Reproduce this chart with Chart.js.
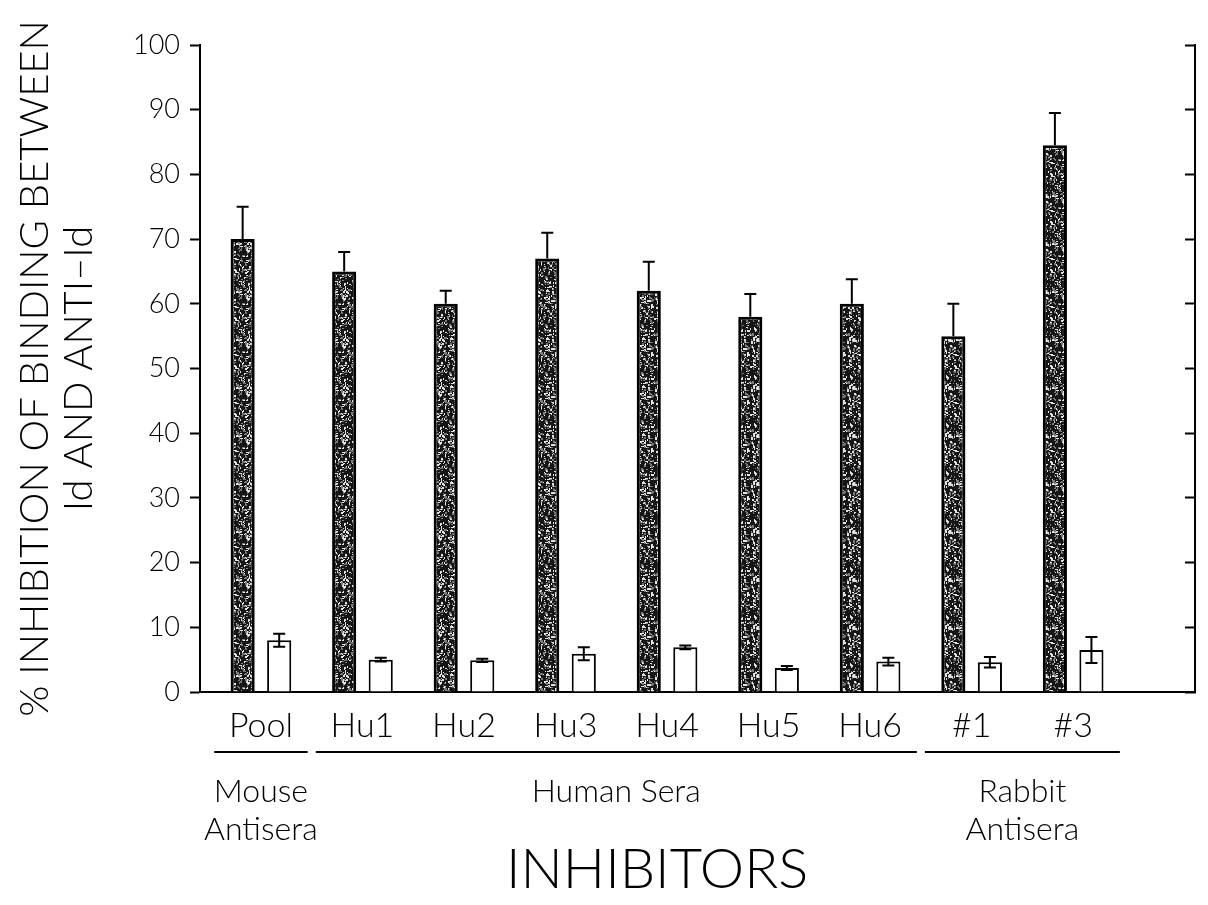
<!DOCTYPE html>
<html>
<head>
<meta charset="utf-8">
<script src="https://cdn.jsdelivr.net/npm/chart.js@4.4.1/dist/chart.umd.min.js"></script>
<style>
  body { margin: 0; background: #fff; }
  #wrap { width: 1208px; height: 905px; }
</style>
</head>
<body>
<div id="wrap"><canvas id="barChart"></canvas></div>
<script>
// values
const categories = ['Pool', 'Hu1', 'Hu2', 'Hu3', 'Hu4', 'Hu5', 'Hu6', '#1', '#3'];
const antiIdValues = [70.0, 65.0, 60.0, 67.0, 62.0, 58.0, 60.0, 55.0, 84.5];
const antiIdErrors = [5.0, 3.0, 2.0, 4.0, 4.5, 3.5, 3.8, 5.0, 5.0];
const controlValues = [8.0, 5.0, 4.9, 5.9, 6.9, 3.7, 4.7, 4.6, 6.5];
const controlErrors = [1.0, 0.3, 0.25, 1.0, 0.3, 0.3, 0.6, 0.8, 2.0];
const yTicks = [0, 10, 20, 30, 40, 50, 60, 70, 80, 90, 100];
const groupNames = [['Mouse', 'Antisera'], ['Human Sera'], ['Rabbit', 'Antisera']];
const groupFirst = [0, 1, 7];
const groupLast = [0, 6, 8];
const yTitle = ['% INHIBITION OF BINDING BETWEEN', 'Id AND ANTI\u2013Id'];
const xTitle = 'INHIBITORS';

const FONT = 'Lato, "DejaVu Sans", sans-serif';
Chart.defaults.color = '#000';
Chart.defaults.font.family = FONT;
Chart.defaults.font.weight = '300';

// speckled fill like the printed halftone
function speckle() {
  const c = document.createElement('canvas');
  c.width = 48; c.height = 48;
  const g = c.getContext('2d');
  g.fillStyle = '#161616';
  g.fillRect(0, 0, 48, 48);
  let s = 11;
  const next = () => (s = (s * 16807) % 2147483647) / 2147483647;
  for (let i = 0; i < 440; i++) {
    g.fillStyle = next() < 0.55 ? '#e2e2e2' : '#7a7a7a';
    g.fillRect(Math.floor(next() * 48), Math.floor(next() * 48), 1 + Math.floor(next() * 2), 1 + Math.floor(next() * 2));
  }
  return g.createPattern(c, 'repeat');
}

const errorBars = {
  id: 'errorBars',
  afterDatasetsDraw(chart) {
    const ctx = chart.ctx;
    const y = chart.scales.y;
    ctx.save();
    ctx.strokeStyle = '#000';
    ctx.lineWidth = 2;
    chart.data.datasets.forEach((ds, di) => {
      chart.getDatasetMeta(di).data.forEach((bar, i) => {
        const v = ds.data[i].y;
        const e = ds.errors[i];
        const top = y.getPixelForValue(v + e);
        const bottom = ds.upOnly ? bar.y : y.getPixelForValue(v - e);
        ctx.beginPath();
        ctx.moveTo(bar.x, top);
        ctx.lineTo(bar.x, bottom);
        ctx.moveTo(bar.x - 6, top);
        ctx.lineTo(bar.x + 6, top);
        if (!ds.upOnly) {
          ctx.moveTo(bar.x - 6, bottom);
          ctx.lineTo(bar.x + 6, bottom);
        }
        ctx.stroke();
      });
    });
    ctx.restore();
  }
};

const groupLabels = {
  id: 'groupLabels',
  afterDraw(chart) {
    const ctx = chart.ctx;
    const x = chart.scales.x;
    const step = x.getPixelForValue(1) - x.getPixelForValue(0);
    ctx.save();
    ctx.strokeStyle = '#000';
    ctx.fillStyle = '#000';
    ctx.lineWidth = 2;
    ctx.textAlign = 'center';
    ctx.textBaseline = 'middle';
    ctx.font = '300 32px ' + FONT;
    let left = null, right = null;
    groupNames.forEach((name, g) => {
      const x0 = x.getPixelForValue(groupFirst[g]) - step * 0.46;
      const x1 = x.getPixelForValue(groupLast[g]) + step * 0.46;
      if (left === null) left = x0;
      right = x1;
      ctx.beginPath();
      ctx.moveTo(x0, x.top + 60);
      ctx.lineTo(x1, x.top + 60);
      ctx.stroke();
      name.forEach((line, k) => ctx.fillText(line, (x0 + x1) / 2, x.top + 100 + k * 38));
    });
    ctx.font = '300 56px ' + FONT;
    ctx.fillText(xTitle, (left + right) / 2 - 10, x.top + 178);
    ctx.restore();
  }
};

new Chart(document.getElementById('barChart').getContext('2d'), {
  type: 'bar',
  data: {
    datasets: [{
      label: 'anti-Id',
      data: antiIdValues.map((v, i) => ({ x: i, y: v })),
      errors: antiIdErrors,
      upOnly: true,
      backgroundColor: speckle(),
      borderColor: '#000',
      borderWidth: 3
    }, {
      label: 'control',
      data: controlValues.map((v, i) => ({ x: i, y: v })),
      errors: controlErrors,
      upOnly: false,
      backgroundColor: '#fff',
      borderColor: '#000',
      borderWidth: 2
    }]
  },
  options: {
    responsive: true,
    maintainAspectRatio: false,
    animation: false,
    categoryPercentage: 0.72,
    barPercentage: 0.66,
    layout: { padding: { top: 45, right: 0, bottom: 0, left: 0 } },
    scales: {
      x: {
        type: 'linear',
        min: -0.6,
        max: 9.2,
        offset: false,
        afterBuildTicks: axis => { axis.ticks = categories.map((c, i) => ({ value: i })); },
        ticks: { callback: v => categories[v], font: { size: 34 }, padding: 14, maxRotation: 0, autoSkip: false },
        grid: { drawOnChartArea: false, drawTicks: false, offset: false },
        border: { color: '#000', width: 2 },
        afterFit: axis => { axis.height = 213; }
      },
      y: {
        min: 0,
        max: 100,
        afterBuildTicks: axis => { axis.ticks = yTicks.map(v => ({ value: v })); },
        ticks: { font: { size: 27 }, padding: 10 },
        grid: { drawOnChartArea: false, tickLength: 10, color: '#000', tickWidth: 2 },
        border: { color: '#000', width: 2 },
        title: { display: true, text: yTitle, font: { size: 40, lineHeight: 1.1 }, padding: { top: 13, bottom: 0 } },
        afterFit: axis => { axis.width = 200; }
      },
      y2: {
        position: 'right',
        min: 0,
        max: 100,
        afterBuildTicks: axis => { axis.ticks = yTicks.map(v => ({ value: v })); },
        ticks: { display: false },
        grid: { drawOnChartArea: false, tickLength: -10, color: '#000', tickWidth: 2 },
        border: { color: '#000', width: 2 },
        afterFit: axis => { axis.width = 13; }
      }
    },
    plugins: {
      legend: { display: false },
      tooltip: { enabled: false }
    }
  },
  plugins: [errorBars, groupLabels]
});
</script>
</body>
</html>
